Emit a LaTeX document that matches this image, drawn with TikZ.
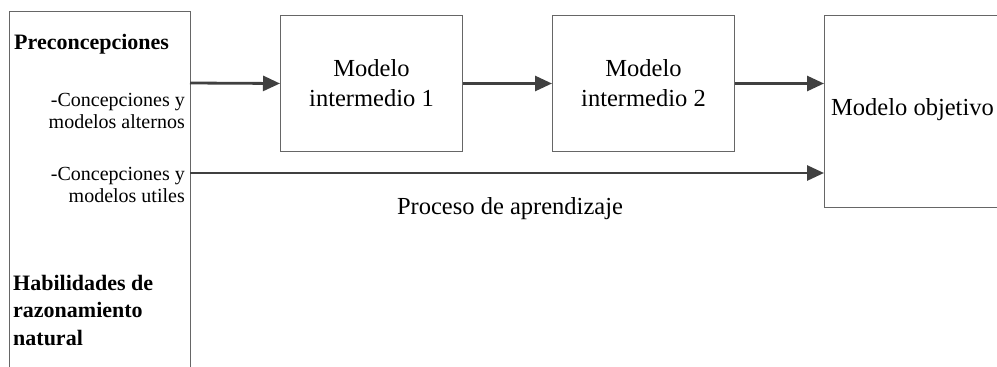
\documentclass[tikz,border=0pt]{standalone}
\usepackage{fontspec}
\setmainfont{Liberation Serif}
\usetikzlibrary{arrows.meta}
\begin{document}
\begin{tikzpicture}[x=1pt,y=-1pt,
  frame/.style={draw=black!60,line width=1pt,inner sep=0pt},
  model/.style={frame,minimum width=182pt,minimum height=136pt,align=center,
    font=\fontsize{24.5}{30}\selectfont},
  arr/.style={draw=black!75,line width=2.8pt,
    -{Triangle[length=17pt,width=15pt]}},
  lbl/.style={inner sep=0pt,font=\fontsize{20}{22.5}\selectfont},
  head/.style={inner sep=0pt,font=\fontsize{22}{27.5}\selectfont\bfseries}]
\useasboundingbox (0,0) rectangle (997,367);
\clip (0,0) rectangle (997,367);
% left column, open at the bottom
\node[frame,anchor=north west,minimum width=181pt,minimum height=380pt] (src) at (9,11) {};
\node[head,anchor=west] (pre) at (14,44) {Preconcepciones};
\node[lbl,anchor=east,align=right] (alt) at (185,111) {-Concepciones y\\modelos alternos};
\node[lbl,anchor=east,align=right] (uti) at (185,185) {-Concepciones y\\modelos utiles};
\node[head,anchor=west,align=left] (hab) at (13,310) {Habilidades de\\razonamiento\\natural};
% model boxes
\node[model,anchor=north west] (m1) at (280,15) {Modelo\\intermedio 1};
\node[model,anchor=north west] (m2) at (552,15) {Modelo\\intermedio 2};
\node[frame,anchor=north west,minimum width=182pt,minimum height=192pt] (obj) at (824,15) {};
\node[inner sep=0pt,anchor=west,font=\fontsize{24.5}{30}\selectfont] (objt) at (831,110) {Modelo objetivo};
% connectors
\coordinate (a1) at (190,83);
\coordinate (a2) at (190,173);
\draw[arr] (a1) -- (m1.west);
\draw[arr] (m1.east) -- (m2.west);
\draw[arr] (m2.east) -- (obj.west |- m2.east);
\draw[arr] (a2) -- (obj.west |- a2);
\node[inner sep=0pt,font=\fontsize{24.5}{30}\selectfont] (proc) at (510,209) {Proceso de aprendizaje};
\end{tikzpicture}
\end{document}
